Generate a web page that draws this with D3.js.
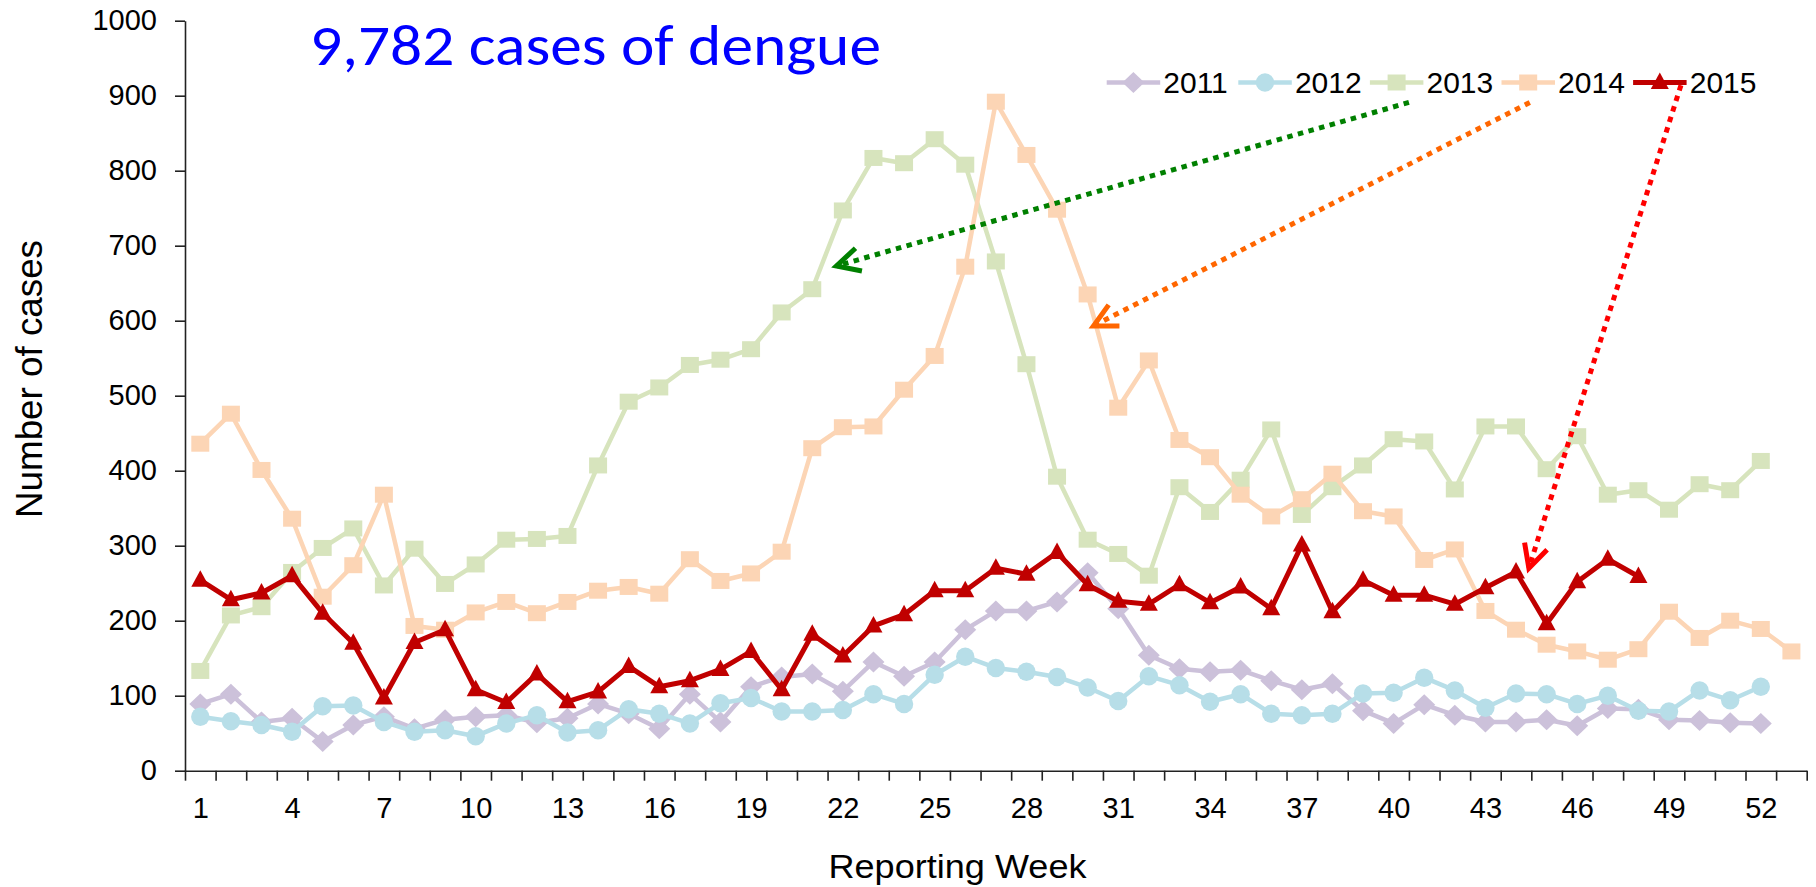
<!DOCTYPE html>
<html>
<head>
<meta charset="utf-8">
<script src="https://cdn.jsdelivr.net/npm/d3@7"></script>
<style>
  body { margin: 0; background: #fff; }
  svg text { font-family: "Liberation Sans", Arial, sans-serif; fill: #000; }
</style>
</head>
<body>
<svg id="chart"></svg>
<script>
// weekly dengue cases
const years = ["2011", "2012", "2013", "2014", "2015"];
const cases2011 = [89, 102, 65, 70, 39, 61, 72, 56, 68, 72, 74, 64, 70, 89, 76, 56, 102, 65, 112, 125,
  129, 106, 145, 126, 145, 188, 213, 213, 225, 264, 216, 154, 136, 132, 134, 120, 108, 116, 80, 63,
  88, 74, 65, 65, 68, 60, 83, 82, 68, 67, 64, 63];
const cases2012 = [72, 66, 61, 52, 86, 87, 65, 52, 54, 46, 63, 74, 51, 54, 82, 76, 63, 90, 97, 79,
  79, 81, 102, 89, 128, 152, 137, 132, 125, 111, 93, 126, 114, 92, 102, 76, 74, 76, 103, 104,
  124, 107, 84, 103, 102, 89, 100, 80, 79, 107, 94, 112];
const cases2013 = [133, 207, 218, 265, 297, 323, 247, 296, 249, 275, 308, 309, 313, 407, 492, 511, 541, 548, 562, 611,
  642, 747, 817, 810, 842, 808, 679, 542, 392, 308, 289, 260, 378, 345, 388, 455, 341, 378, 407, 442,
  439, 375, 459, 459, 402, 446, 368, 374, 348, 382, 374, 413];
const cases2014 = [436, 476, 401, 336, 232, 274, 368, 193, 188, 211, 225, 210, 225, 240, 245, 236, 282, 253, 263, 292,
  430, 458, 459, 508, 553, 672, 892, 821, 748, 635, 484, 547, 441, 418, 368, 339, 362, 396, 346, 339,
  281, 295, 213, 188, 168, 159, 148, 162, 212, 177, 200, 189, 159];
const cases2015 = [254, 228, 237, 260, 210, 170, 97, 171, 188, 108, 91, 129, 92, 105, 139, 112, 120, 135, 159, 108,
  182, 153, 193, 208, 240, 240, 270, 262, 291, 248, 226, 222, 248, 224, 245, 216, 301, 212, 254, 234,
  234, 222, 244, 265, 196, 252, 282, 259];
const weekLabels = [1, 4, 7, 10, 13, 16, 19, 22, 25, 28, 31, 34, 37, 40, 43, 46, 49, 52];
const yTicks = [0, 100, 200, 300, 400, 500, 600, 700, 800, 900, 1000];
const totalWeeks = 53;
const headline = "9,782 cases of dengue";

// callout arrows in data units: [week, cases] start -> tip
const arrows = [
  { from: [40.5, 891], to: [21.79, 673], color: "#008000" },
  { from: [44.45, 891], to: [30.19, 593], color: "#ff6600" },
  { from: [49.39, 914], to: [44.42, 270], color: "#ff0000" }
];

const width = 1816, height = 887;
const plotLeft = 185, plotRight = 1806.7, plotTop = 20.7, plotBottom = 770.7;

const svg = d3.select("#chart").attr("width", width).attr("height", height);

const x = d3.scaleLinear().domain([0.5, totalWeeks + 0.5]).range([plotLeft, plotRight]);
const y = d3.scaleLinear().domain([0, 1000]).range([plotBottom, plotTop]);

let series = [
  { year: years[0], values: cases2011, color: "#ccc1da", shape: "diamond", width: 4.5 },
  { year: years[1], values: cases2012, color: "#b7dee8", shape: "circle", width: 4.5 },
  { year: years[2], values: cases2013, color: "#d7e4bd", shape: "square", width: 4.5 },
  { year: years[3], values: cases2014, color: "#fcd5b5", shape: "square", width: 4.5 },
  { year: years[4], values: cases2015, color: "#c00000", shape: "triangle", width: 5 }
];

let shapePath = {
  diamond: "M0,-10.5L11,0L0,10.5L-11,0Z",
  circle: d3.symbol(d3.symbolCircle, Math.PI * 9.2 * 9.2)(),
  square: "M-9,-8H9V8H-9Z",
  triangle: "M0,-10L9,6.5L-9,6.5Z"
};

// axes
let yAxis = svg.append("g")
  .attr("transform", `translate(${plotLeft},0)`)
  .call(d3.axisLeft(y).tickValues(yTicks).tickFormat(d3.format("d"))
    .tickSize(10).tickSizeOuter(0).tickPadding(18));
yAxis.selectAll("text").style("font-size", "29px");

svg.append("g")
  .attr("transform", `translate(0,${plotBottom})`)
  .call(d3.axisBottom(x).tickValues(d3.range(0.5, totalWeeks + 1, 1)).tickSize(10).tickSizeOuter(0).tickFormat(""));

let xLabels = svg.append("g")
  .attr("transform", `translate(0,${plotBottom})`)
  .call(d3.axisBottom(x).tickValues(weekLabels).tickSize(0).tickPadding(27));
xLabels.select(".domain").remove();
xLabels.selectAll("text").style("font-size", "29px");

svg.selectAll(".domain, .tick line").attr("stroke", "#222").attr("stroke-width", 1.6);

// axis titles
svg.append("text")
  .attr("x", 957.5).attr("y", 878.3)
  .attr("text-anchor", "middle")
  .attr("textLength", 258).attr("lengthAdjust", "spacingAndGlyphs")
  .style("font-size", "34px")
  .text("Reporting Week");

svg.append("text")
  .attr("transform", "translate(41.5,379) rotate(-90)")
  .attr("text-anchor", "middle")
  .attr("textLength", 278).attr("lengthAdjust", "spacingAndGlyphs")
  .style("font-size", "36px")
  .text("Number of cases");

// series
let line = d3.line().x((d, i) => x(i + 1)).y((d) => y(d));

let sg = svg.append("g")
  .selectAll("g")
  .data(series)
  .join("g");

sg.append("path")
  .attr("d", (s) => line(s.values))
  .attr("fill", "none")
  .attr("stroke", (s) => s.color)
  .attr("stroke-width", (s) => s.width)
  .attr("stroke-linejoin", "round");

sg.each(function (s) {
  d3.select(this)
    .selectAll(".pt")
    .data(s.values)
    .join("path")
    .attr("class", "pt")
    .attr("d", shapePath[s.shape])
    .attr("transform", (d, i) => `translate(${x(i + 1)},${y(d)})`)
    .attr("fill", s.color);
});

// legend
let legend = svg.append("g")
  .selectAll("g")
  .data(series)
  .join("g")
  .attr("transform", (s, i) => `translate(${1106.7 + i * 131.6},82.5)`);

legend.append("line")
  .attr("x1", 0).attr("x2", 53.5)
  .attr("stroke", (s) => s.color)
  .attr("stroke-width", (s) => s.width);
legend.append("path")
  .attr("d", (s) => shapePath[s.shape])
  .attr("transform", "translate(26.7,0)")
  .attr("fill", (s) => s.color);
legend.append("text")
  .attr("x", 56.6).attr("y", 10.2)
  .style("font-size", "30px")
  .text((s) => s.year);

// headline
svg.append("text")
  .attr("x", 310).attr("y", 65)
  .attr("textLength", 571).attr("lengthAdjust", "spacingAndGlyphs")
  .style("font-family", "Carlito, Calibri, Lato, sans-serif")
  .style("font-size", "57px")
  .style("fill", "#0000ff")
  .text(headline);

// dotted callout arrows
let ag = svg.append("g")
  .selectAll("g")
  .data(arrows)
  .join("g");

ag.append("line")
  .attr("x1", (a) => x(a.from[0])).attr("y1", (a) => y(a.from[1]))
  .attr("x2", (a) => x(a.to[0])).attr("y2", (a) => y(a.to[1]))
  .attr("stroke", (a) => a.color)
  .attr("stroke-width", 5)
  .attr("stroke-dasharray", "5.5,5.5");

ag.append("path")
  .attr("d", (a) => {
    let tx = x(a.to[0]), ty = y(a.to[1]);
    let ang = Math.atan2(y(a.from[1]) - ty, x(a.from[0]) - tx);
    let len = 26, spread = 27 * Math.PI / 180;
    let p1 = [tx + len * Math.cos(ang - spread), ty + len * Math.sin(ang - spread)];
    let p2 = [tx + len * Math.cos(ang + spread), ty + len * Math.sin(ang + spread)];
    return `M${p1}L${tx},${ty}L${p2}`;
  })
  .attr("fill", "none")
  .attr("stroke", (a) => a.color)
  .attr("stroke-width", 5);
</script>
</body>
</html>
